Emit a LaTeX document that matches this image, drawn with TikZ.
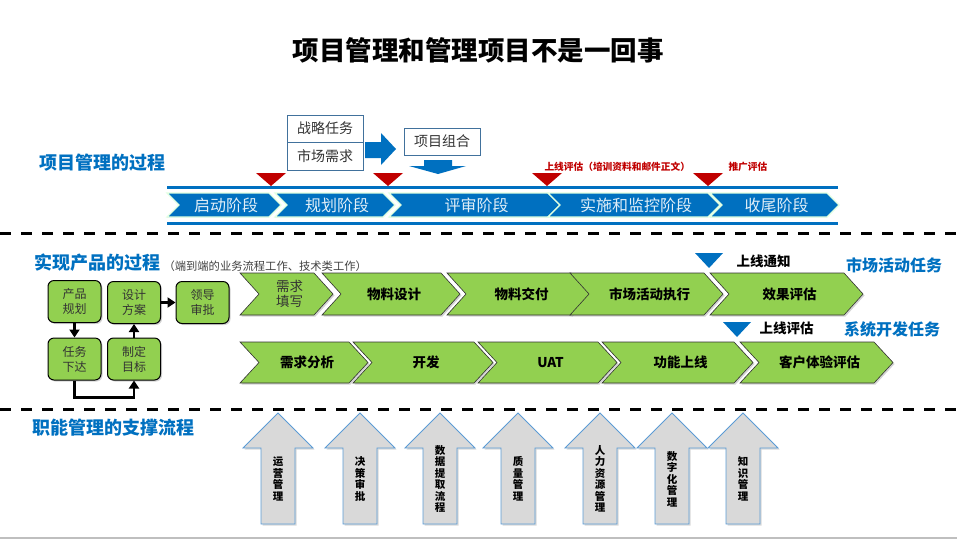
\documentclass[tikz,border=0pt]{standalone}
\usepackage{fontspec}
\setmainfont{Noto Sans CJK SC}
\usepackage{tikz}
\usetikzlibrary{positioning, arrows.meta, shadows}

\definecolor{pmblue}{RGB}{0,112,192}
\definecolor{pmred}{RGB}{192,0,0}
\definecolor{pmgreen}{RGB}{146,208,80}
\definecolor{pmgray}{RGB}{217,217,217}
\definecolor{pmedge}{RGB}{65,113,156}
\definecolor{pmline}{RGB}{91,155,213}

\begin{document}
\begin{tikzpicture}[x=1pt, y=-1pt, >={Triangle[length=8pt,width=10pt]},
    stage/.style={fill=pmblue, draw=green!12!white, line width=1.2pt},
    stagetext/.style={text=white!88!pmblue, font=\fontsize{16}{18}\selectfont},
    flow/.style={fill=pmgreen, draw=black!80, line width=0.6pt,
      drop shadow={shadow xshift=1.5pt, shadow yshift=-1.5pt, opacity=.35}},
    flowtext/.style={font=\bfseries\fontsize{13.5}{16}\selectfont},
    plaintext/.style={align=center, text=black!80, font=\fontsize{13.5}{15}\selectfont},
    inbox/.style={draw=pmedge, fill=white, line width=0.8pt, minimum width=76pt,
      minimum height=27pt, inner sep=0pt, text=black!80, font=\fontsize{14}{16}\selectfont},
    stepbox/.style={rounded corners=6pt, fill=pmgreen, draw=black, line width=1pt,
      minimum width=53pt, minimum height=42pt, inner sep=0pt, align=center,
      text=black!80, font=\fontsize{12}{15}\selectfont,
      drop shadow={shadow xshift=1.5pt, shadow yshift=-1.5pt, opacity=.35}},
    link/.style={->, line width=2.5pt},
    header/.style={text=pmblue, font=\bfseries\fontsize{18}{20}\selectfont},
    tasklabel/.style={text=pmblue, font=\bfseries\fontsize{16}{18}\selectfont},
    marklabel/.style={anchor=west, font=\bfseries\fontsize{13.5}{15}\selectfont},
    redlabel/.style={anchor=west, text=pmred, font=\bfseries\fontsize{9.7}{11}\selectfont},
    support/.style={fill=pmgray, draw=pmline, line width=0.8pt,
      drop shadow={shadow xshift=1.5pt, shadow yshift=-1.5pt, opacity=.3}},
    supporttext/.style={align=center, font=\bfseries\fontsize{10.5}{11.5}\selectfont},
    sepline/.style={line width=3pt, dash pattern=on 11pt off 10pt}]

    \useasboundingbox (0,0) rectangle (957,539);

    % Title
    \node[font=\bfseries\fontsize{26.5}{30}\selectfont] (title) at (478,50) {项目管理和管理项目不是一回事};

    % Project management process
    \node[header] (pmproc) at (102,163) {项目管理的过程};

    \node[inbox] (zlrw) at (325,128.5) {战略任务};
    \node[inbox, minimum height=28pt] (scxq) at (325,156) {市场需求};
    \node[inbox] (xmzh) at (442,141.5) {项目组合};

    \fill[pmblue] (365,142) -- (381,142) -- (381,133) -- (396,149) -- (381,165) -- (381,158) -- (365,158) -- cycle;
    \fill[pmblue] (424,160) -- (452,160) -- (452,166) -- (466,166) -- (438,174) -- (409,166) -- (424,166) -- cycle;

    \draw[pmblue, line width=3pt] (167,187) -- (838,187);
    \draw[pmblue, line width=3pt] (167,223) -- (838,223);

    \foreach \a/\b/\t/\n in {167/281/启动阶段/qidong, 275/395/规划阶段/guihua,
        389/560/评审阶段/pingshen, 548/720/实施和监控阶段/shishi, 710/839/收尾阶段/shouwei} {
        \draw[stage] (\a,193) -- ({\b-12},193) -- (\b,205) -- ({\b-12},217) -- (\a,217) -- ({\a+12},205) -- cycle;
        \node[stagetext] (\n) at ({(\a+\b)/2+2},205) {\t};
    }

    % Review marks
    \foreach \x in {271, 388, 547, 708} {
        \fill[pmred] ({\x-15},173) -- ({\x+15},173) -- (\x,186) -- cycle;
    }
    \node[redlabel] (sxpg) at (541,167) {上线评估（培训资料和邮件正文）};
    \node[redlabel] (tgpg) at (725,167) {推广评估};

    \draw[sepline] (0,233) -- (957,233);

    % Product process
    \node[header] (cpproc) at (97,263) {实现产品的过程};
    \node[anchor=west, text=black!75, font=\fontsize{11.3}{13}\selectfont] (cpnote) at (160,266) {（端到端的业务流程工作、技术类工作）};

    \node[stepbox] (cpgh) at (74.5,301.5) {产品\\规划};
    \node[stepbox] (sjfa) at (134,302.5) {设计\\方案};
    \node[stepbox] (ldsp) at (202.5,302.5) {领导\\审批};
    \node[stepbox] (rwxd) at (74.5,359) {任务\\下达};
    \node[stepbox] (zdmb) at (134,359) {制定\\目标};

    \draw[link] (cpgh) -- (rwxd);
    \draw[link] (zdmb) -- (sjfa);
    \draw[link] (sjfa) -- (ldsp);
    \draw[link] (rwxd.south) -- ++(0,17) -| (zdmb.south);

    \foreach \a/\b/\t/\n/\s in {240/333/{需求\\填写}/xqtx/plaintext, 322/460/物料设计/wlsj/flowtext,
        447/590/物料交付/wljf/flowtext, 570/723/市场活动执行/schd/flowtext, 710/863/效果评估/xgpg/flowtext} {
        \draw[flow] (\a,273) -- ({\b-19},273) -- (\b,294) -- ({\b-19},315) -- (\a,315) -- ({\a+19},294) -- cycle;
        \node[\s] (\n) at ({(\a+\b)/2+3},294) {\t};
    }
    \foreach \a/\b/\t/\n in {240/368/需求分析/xqfx, 353/493/开发/kf, 478/617/UAT/uat,
        602/753/功能上线/gnsx, 740/893/客户体验评估/khty} {
        \draw[flow] (\a,342) -- ({\b-19},342) -- (\b,362.5) -- ({\b-19},383) -- (\a,383) -- ({\a+19},362.5) -- cycle;
        \node[flowtext] (\n) at ({(\a+\b)/2+3},362.5) {\t};
    }

    \fill[pmblue] (695,253) -- (723,253) -- (709,268) -- cycle;
    \node[marklabel] (sxtz) at (733,261) {上线通知};
    \fill[pmblue] (723,322) -- (751,322) -- (737,337) -- cycle;
    \node[marklabel] (sxpg2) at (756,328) {上线评估};

    \node[tasklabel] (schdrw) at (894,265) {市场活动任务};
    \node[tasklabel] (xtkfrw) at (892,329) {系统开发任务};

    \draw[sepline] (0,409) -- (957,409);

    % Support process
    \node[header] (znproc) at (113,428) {职能管理的支撑流程};

    \foreach \c/\t/\n in {278/{运\\营\\管\\理}/yygl, 360/{决\\策\\审\\批}/jcsp,
        440/{数\\据\\提\\取\\流\\程}/sjtq, 518/{质\\量\\管\\理}/zlgl,
        600/{人\\力\\资\\源\\管\\理}/rlzy, 672/{数\\字\\化\\管\\理}/szh, 743/{知\\识\\管\\理}/zsgl} {
        \draw[support] ({\c-35},448) -- (\c,413) -- ({\c+35},448) -- ({\c+17},448) -- ({\c+17},524)
            -- ({\c-17},524) -- ({\c-17},448) -- cycle;
        \node[supporttext] (\n) at (\c,479) {\t};
    }

    \draw[black!25, line width=2pt] (0,538) -- (957,538);
\end{tikzpicture}
\end{document}
